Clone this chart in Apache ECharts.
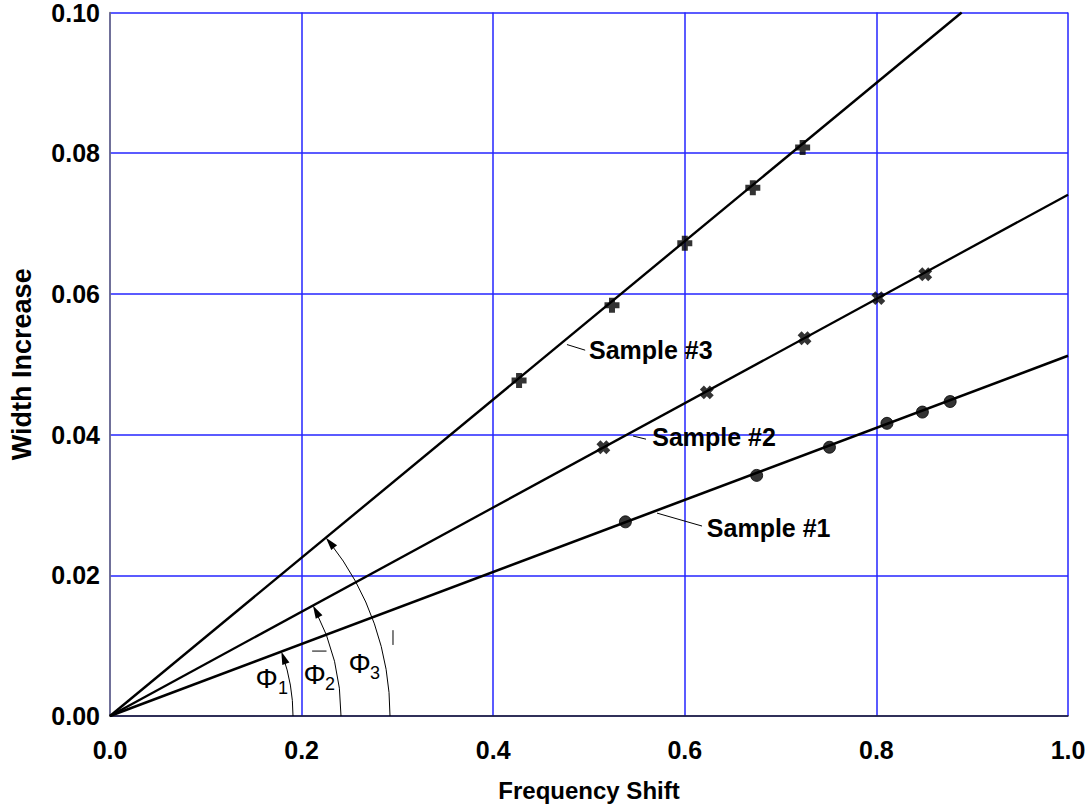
<!DOCTYPE html>
<html>
<head>
<meta charset="utf-8">
<script src="https://cdn.jsdelivr.net/npm/echarts@6/dist/echarts.min.js"></script>
<style>html,body{margin:0;padding:0;background:#fff;}#c{width:1089px;height:807px;}</style>
</head>
<body>
<div id="c"></div>
<script>
// ---- data ----
const xTicks = [0.0, 0.2, 0.4, 0.6, 0.8, 1.0];
const yTicks = [0.00, 0.02, 0.04, 0.06, 0.08, 0.10];
const sample1X = [0.538, 0.675, 0.751, 0.811, 0.848, 0.877];
const sample1Y = [0.0276, 0.0342, 0.0382, 0.0416, 0.0432, 0.0447];
const sample2X = [0.515, 0.623, 0.725, 0.802, 0.851];
const sample2Y = [0.0382, 0.0460, 0.0537, 0.0594, 0.0628];
const sample3X = [0.427, 0.524, 0.600, 0.671, 0.723];
const sample3Y = [0.0477, 0.0584, 0.0672, 0.0751, 0.0808];
const fit1X = [0, 1.0];   const fit1Y = [0, 0.0512];
const fit2X = [0, 1.0];   const fit2Y = [0, 0.0741];
const fit3X = [0, 0.889]; const fit3Y = [0, 0.100];
const sampleNames = ['Sample #1', 'Sample #2', 'Sample #3'];
const phiNames = ['1', '2', '3'];

const zip = (a, b) => a.map((v, i) => [v, b[i]]);

const FONT = '"Liberation Sans", Arial, sans-serif';
const plusPath = 'path://M3,0 h4 v3 h3 v4 h-3 v3 h-4 v-3 h-3 v-4 h3 z';

const chart = echarts.init(document.getElementById('c'), null, {renderer: 'svg'});

const option = {
  backgroundColor: '#fff',
  animation: false,
  grid: {left: 110, right: 21, top: 11, bottom: 91, containLabel: false},
  xAxis: {
    type: 'value', min: 0, max: 1, interval: 0.2,
    name: 'Frequency Shift', nameLocation: 'middle', nameGap: 62,
    nameTextStyle: {fontFamily: FONT, fontWeight: 'bold', fontSize: 24, color: '#000'},
    axisLine: {show: true, lineStyle: {color: '#222', width: 1.5}},
    axisTick: {show: false},
    axisLabel: {fontFamily: FONT, fontWeight: 'bold', fontSize: 25, color: '#000', margin: 21,
      formatter: v => { const t = xTicks.find(k => Math.abs(k - v) < 1e-9); return t === undefined ? '' : t.toFixed(1); }},
    splitLine: {show: true, lineStyle: {color: '#2424ff', width: 1.5}}
  },
  yAxis: {
    type: 'value', min: 0, max: 0.1, interval: 0.02,
    name: 'Width Increase', nameLocation: 'middle', nameGap: 75, nameRotate: 90,
    nameTextStyle: {fontFamily: FONT, fontWeight: 'bold', fontSize: 27, color: '#000'},
    axisLine: {show: true, lineStyle: {color: '#777', width: 1.5}},
    axisTick: {show: false},
    axisLabel: {fontFamily: FONT, fontWeight: 'bold', fontSize: 25, color: '#000', margin: 10,
      formatter: v => { const t = yTicks.find(k => Math.abs(k - v) < 1e-9); return t === undefined ? '' : t.toFixed(2); }},
    splitLine: {show: true, lineStyle: {color: '#2424ff', width: 1.5}}
  },
  series: [
    {type: 'line', data: zip(fit1X, fit1Y), symbol: 'none', lineStyle: {color: '#000', width: 2.6}, z: 3},
    {type: 'line', data: zip(fit2X, fit2Y), symbol: 'none', lineStyle: {color: '#000', width: 2.3}, z: 3},
    {type: 'line', data: zip(fit3X, fit3Y), symbol: 'none', lineStyle: {color: '#000', width: 2.4}, z: 3},
    {type: 'scatter', data: zip(sample1X, sample1Y), symbol: 'circle', symbolSize: 12,
      itemStyle: {color: '#000', borderColor: '#000', borderWidth: 1}, z: 4},
    {type: 'scatter', data: zip(sample2X, sample2Y), symbol: plusPath, symbolSize: 14, symbolRotate: 45,
      itemStyle: {color: '#000'}, z: 4},
    {type: 'scatter', data: zip(sample3X, sample3Y), symbol: plusPath, symbolSize: 15,
      itemStyle: {color: '#000'}, z: 4}
  ]
};
chart.setOption(option);

// ---- annotations (positions in data coordinates) ----
const labelAnchors = [[0.623, 0.0267], [0.566, 0.0396], [0.500, 0.0520]];
const leaders = [
  [[0.571, 0.02884], [0.618, 0.0270]],
  [[0.546, 0.0398], [0.5595, 0.03935]],
  [[0.477, 0.0528], [0.496, 0.0520]]
];
const phiAnchors = [[0.1520, 0.00526], [0.2020, 0.00597], [0.2490, 0.00746]];
const subAnchors = [[0.1754, 0.00400], [0.2244, 0.00457], [0.2714, 0.00613]];
const arcRadii = [183, 231, 280];
const fits = [[fit1X, fit1Y], [fit2X, fit2Y], [fit3X, fit3Y]];

const px = p => chart.convertToPixel({gridIndex: 0}, p);
const O = px([0, 0]);
const g = [];

fits.forEach((f, i) => {
  const P = px([f[0][1], f[1][1]]);
  const th = Math.atan2(O[1] - P[1], P[0] - O[0]);
  const r = arcRadii[i];
  g.push({type: 'arc', z: 10, silent: true,
    shape: {cx: O[0], cy: O[1], r: r, startAngle: -th + 0.02, endAngle: 0, clockwise: true},
    style: {stroke: '#000', lineWidth: 1, fill: null}});
  const T = [O[0] + r * Math.cos(th), O[1] - r * Math.sin(th)];
  const d = [-Math.sin(th), -Math.cos(th)];
  const n = [Math.cos(th), -Math.sin(th)];
  const L = 13, W = 3.8;
  const B = [T[0] - L * d[0], T[1] - L * d[1]];
  g.push({type: 'polygon', z: 11, silent: true,
    shape: {points: [T, [B[0] + W * n[0], B[1] + W * n[1]], [B[0] - W * n[0], B[1] - W * n[1]]]},
    style: {fill: '#000'}});
});

leaders.forEach(l => {
  const a = px(l[0]), b = px(l[1]);
  g.push({type: 'line', z: 10, silent: true, shape: {x1: a[0], y1: a[1], x2: b[0], y2: b[1]},
    style: {stroke: '#000', lineWidth: 1}});
});

labelAnchors.forEach((p, i) => {
  const q = px(p);
  g.push({type: 'text', z: 12, x: q[0], y: q[1],
    style: {text: sampleNames[i], fontFamily: FONT, fontWeight: 'bold', fontSize: 25, fill: '#000',
      textAlign: 'left', textVerticalAlign: 'middle'}});
});

phiAnchors.forEach((p, i) => {
  const q = px(p), s = px(subAnchors[i]);
  g.push({type: 'text', z: 12, x: q[0], y: q[1],
    style: {text: 'Φ', fontFamily: FONT, fontSize: 28, fill: '#000', textAlign: 'left', textVerticalAlign: 'middle'}});
  g.push({type: 'text', z: 12, x: s[0], y: s[1],
    style: {text: phiNames[i], fontFamily: FONT, fontSize: 18, fill: '#000', textAlign: 'left', textVerticalAlign: 'middle'}});
});

// small stray marks in the reference
const strayLines = [
  [[0.211, 0.00923], [0.226, 0.00923]],
  [[0.2954, 0.0101], [0.2954, 0.0122]]
];
strayLines.forEach(l => {
  const a = px(l[0]), b = px(l[1]);
  g.push({type: 'line', z: 10, silent: true, shape: {x1: a[0], y1: a[1], x2: b[0], y2: b[1]},
    style: {stroke: '#000', lineWidth: 1}});
});

chart.setOption({graphic: g});
</script>
</body>
</html>
